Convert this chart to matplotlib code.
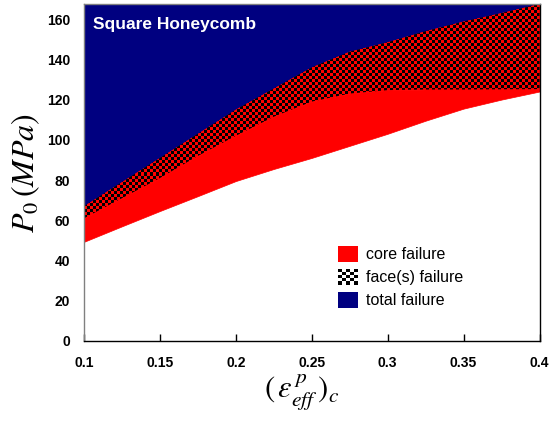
#!/usr/bin/env python3
"""
Failure map for a square honeycomb core: P0 against effective plastic strain.
"""

import numpy as np
import matplotlib

matplotlib.use("Agg")

import matplotlib.pyplot as plt
from matplotlib.legend_handler import HandlerBase
from matplotlib.patches import Patch, Rectangle


STRAIN = [0.1, 0.125, 0.15, 0.175, 0.2, 0.225, 0.25, 0.275, 0.3, 0.325, 0.35, 0.375, 0.4]
CORE_START = [49.3, 57, 64.6, 72, 79.5, 85.5, 91, 97, 103, 109.5, 115.5, 120, 124]
FACE_START = [61, 71, 81, 92, 102, 111.5, 119, 123, 124.7, 125, 125, 125.1, 125.2]
TOTAL_START = [67, 79, 91, 103, 115, 125.5, 136, 143.8, 148.5, 154, 158.8, 163, 167.5]

X_TICKS = [0.1, 0.15, 0.2, 0.25, 0.3, 0.35, 0.4]
Y_TICKS = [0, 20, 40, 60, 80, 100, 120, 140, 160]
LABELS = ["core failure", "face(s) failure", "total failure"]

RED = "#ff0000"
NAVY = "#000080"
Y_MAX = 167.5

plt.rcParams.update({"font.family": ["Liberation Sans", "DejaVu Sans"], "mathtext.fontset": "stix"})


class CheckerHandler(HandlerBase):
    def create_artists(self, legend, orig_handle, xdescent, ydescent, width, height, fontsize, trans):
        n = 5
        cw, ch = width / n, height / n
        artists = []
        for i in range(n):
            for j in range(n):
                color = "black" if (i + j) % 2 == 0 else "white"
                artists.append(Rectangle((-xdescent + i * cw, -ydescent + j * ch), cw, ch,
                                         facecolor=color, edgecolor="none", transform=trans))
        return artists


fig = plt.figure(figsize=(5.5, 4.22), dpi=100, facecolor="white")
ax = fig.add_axes([84 / 550, 81 / 422, 455.5 / 550, 337 / 422])

x = np.array(STRAIN)
ax.fill_between(x, TOTAL_START, Y_MAX, facecolor=NAVY, edgecolor=NAVY, linewidth=0.5)
ax.fill_between(x, CORE_START, FACE_START, facecolor=RED, edgecolor=RED, linewidth=0.5)
face = ax.fill_between(x, FACE_START, TOTAL_START, facecolor=RED, edgecolor=RED, linewidth=0.5)

# checkerboard texture clipped to the face-failure band
rows, cols = 112, 152
checker = (np.add.outer(np.arange(rows), np.arange(cols)) % 2).astype(float)
img = np.zeros((rows, cols, 4))
img[..., 0] = checker
img[..., 3] = 1.0
im = ax.imshow(img, extent=(0.1, 0.4, 0, Y_MAX), aspect="auto", interpolation="nearest", zorder=2)
im.set_clip_path(face.get_paths()[0], transform=ax.transData)

ax.set_xlim(0.1, 0.4)
ax.set_ylim(0, Y_MAX)
ax.set_xticks(X_TICKS)
ax.set_xticklabels([f"{v:g}" for v in X_TICKS])
ax.set_yticks(Y_TICKS)
ax.tick_params(axis="x", direction="in", length=5, width=1, pad=11, labelsize=10)
ax.tick_params(axis="y", length=0, pad=10, labelsize=10)
for lab in ax.get_xticklabels() + ax.get_yticklabels():
    lab.set_fontweight("bold")

for side in ["left", "top"]:
    ax.spines[side].set_color("#808080")
for side in ["bottom", "right"]:
    ax.spines[side].set_color("black")
for sp in ax.spines.values():
    sp.set_linewidth(1)
    sp.set_zorder(5)

ax.set_ylabel(r"$P_0\,(MPa)$", fontsize=23)
ax.yaxis.set_label_coords(-0.092, 0.5)
ax.set_xlabel(r"$(\,\varepsilon^{\,p}_{eff}\,)_c$", fontsize=22)
ax.xaxis.set_label_coords(0.478, -0.092)

ax.text(0.02, 0.94, "Square Honeycomb", transform=ax.transAxes, color="white",
        fontsize=12.5, fontweight="bold", va="center", ha="left", zorder=6)

handles = [Patch(facecolor=RED), object(), Patch(facecolor=NAVY)]
leg = ax.legend(handles, LABELS, handler_map={object: CheckerHandler()},
                loc="upper left", bbox_to_anchor=(0.557, 0.282), frameon=False,
                fontsize=11.5, handlelength=1.25, handleheight=1.13, labelspacing=0.42,
                handletextpad=0.55, borderpad=0, borderaxespad=0)
leg.set_zorder(6)

fig.savefig("out.png", dpi=100, facecolor="white")
